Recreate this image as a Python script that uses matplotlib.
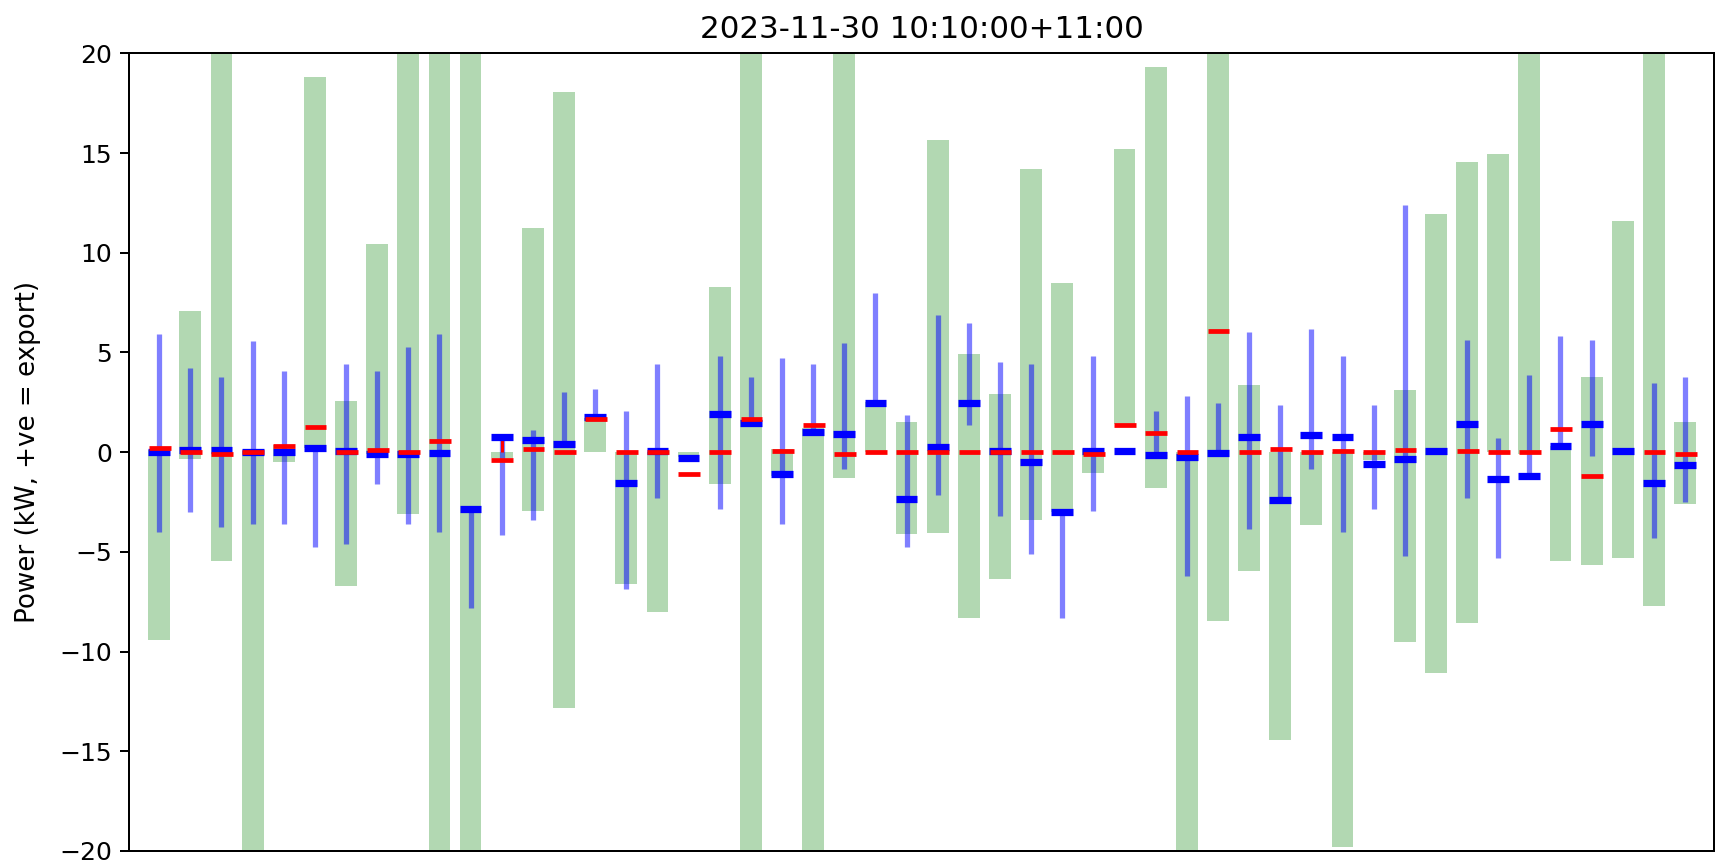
import numpy as np
import matplotlib
matplotlib.use("Agg")
import matplotlib.pyplot as plt

title = "2023-11-30 10:10:00+11:00"
ylabel = "Power (kW, +ve = export)"
N = None

# green bars: bottom / top (clipped bars extend past the axes)
green_lo = [-9.4, -0.34, -5.45, -25, -0.5, 0.2, -6.7, -0.1, -3.09, -25,
            -25, -0.3, -2.93, -12.83, 0.0, -6.6, -8.04, -0.25, -1.62, -25,
            -1.18, -25, -1.31, 0.0, -4.1, -4.06, -8.3, -6.34, -3.4, -3.0,
            -1.05, 1.4, -1.78, -25, -8.46, -5.94, -14.45, -3.66, -19.8, -0.4,
            -9.5, -11.05, -8.56, 0.0, -0.1, -5.45, -5.65, -5.29, -7.72, -2.62]
green_hi = [0.1, 7.07, 25, 0.05, 0.37, 18.8, 2.57, 10.45, 25, 25,
            25, 0.0, 11.26, 18.04, 1.7, 0.0, 0.0, 0.0, 8.3, 25,
            0.18, 1.23, 25, 2.49, 1.49, 15.63, 4.9, 2.93, 14.21, 8.46,
            0.18, 15.2, 19.3, 0.0, 25, 3.38, 0.0, 0.0, 0.0, 0.0,
            3.14, 11.94, 14.55, 14.97, 25, 0.3, 3.77, 11.57, 25, 1.49]

# blue range (min / max)
blue_lo = [-3.98, -3.01, -3.77, -3.59, -3.59, -4.74, -4.63, -1.62, -3.59, -3.98,
           -7.8, -4.14, -3.4, 0.45, 1.7, -6.88, -2.28, N, -2.83, 1.45,
           -3.59, 1.03, -0.84, 2.45, -4.74, -2.17, 1.36, -3.19, -5.1, -8.3,
           -2.93, N, -0.13, -6.2, -0.05, -3.85, -2.4, -0.84, -3.98, -2.83,
           -5.21, N, -2.28, -5.29, -1.18, 0.33, -0.18, N, -4.32, -2.49]
blue_hi = [5.94, 4.24, 3.77, 5.55, 4.06, 0.26, 4.42, 4.06, 5.29, 5.94,
           -2.83, 0.79, 1.13, 3.04, 3.19, 2.07, 4.42, N, 4.82, 3.77,
           4.71, 4.4, 5.45, 7.98, 1.88, 6.88, 6.49, 4.53, 4.42, -3.0,
           4.82, N, 2.07, 2.8, 2.46, 6.0, 2.36, 6.2, 4.82, 2.36,
           12.38, N, 5.63, 0.73, 3.85, 5.81, 5.63, N, 3.48, 3.77]

# blue mean marker
blue_mid = [0.03, 0.13, 0.12, 0.03, 0.0, 0.23, 0.05, -0.07, -0.1, -0.05,
            -2.83, 0.75, 0.6, 0.42, 1.78, -1.55, 0.05, -0.3, 1.91, 1.45,
            -1.08, 1.03, 0.93, 2.45, -2.36, 0.25, 2.45, 0.07, -0.5, -3.01,
            0.08, 0.05, -0.13, -0.25, -0.05, 0.75, -2.4, 0.85, 0.78, -0.6,
            -0.33, 0.05, 1.42, -1.37, -1.18, 0.33, 1.42, 0.05, -1.55, -0.62]

# red marker
red_mid = [0.2, 0.0, -0.1, 0.03, 0.3, 1.27, 0.0, 0.1, 0.0, 0.55,
           N, -0.37, 0.18, 0.0, 1.65, 0.0, 0.0, -1.12, 0.0, 1.65,
           0.08, 1.37, -0.1, 0.0, 0.0, 0.0, 0.0, 0.0, 0.0, 0.0,
           -0.1, 1.37, 0.98, 0.0, 6.06, 0.0, 0.18, 0.0, 0.08, 0.0,
           0.1, N, 0.08, 0.0, 0.0, 1.18, -1.22, N, 0.0, -0.08]
red_lo = [N] * 11 + [0.0] + [N] * 38
red_hi = [N] * 11 + [0.6] + [N] * 38


def arr(v):
    return np.array([np.nan if x is None else x for x in v], dtype=float)


x = np.arange(len(blue_mid))
W, H, DPI = 1715, 867, 180
fig = plt.figure(figsize=(W / DPI, H / DPI), dpi=DPI)
ax = fig.add_axes([129.3 / W, 16 / H, (1714 - 129.3) / W, (851 - 53.3) / H])

glo, ghi = arr(green_lo), arr(green_hi)
ax.bar(x, ghi - glo, bottom=glo, width=0.7, color="g", alpha=0.3, linewidth=0)

blo, bhi = arr(blue_lo), arr(blue_hi)
ok = ~np.isnan(blo)
ax.vlines(x[ok], blo[ok], bhi[ok], color="b", alpha=0.5, linewidth=2.1)

rlo, rhi = arr(red_lo), arr(red_hi)
okr = ~np.isnan(rlo)
ax.vlines(x[okr], rlo[okr], rhi[okr], color="r", linewidth=1.2)

bm = arr(blue_mid)
ax.hlines(bm, x - 0.35, x + 0.35, color="b", linewidth=2.9)
rm = arr(red_mid)
okm = ~np.isnan(rm)
ax.hlines(rm[okm], x[okm] - 0.33, x[okm] + 0.37, color="r", linewidth=1.9)

ax.set_xlim(-0.96, 49.93)
ax.set_ylim(-20, 20)
ax.set_yticks([-20, -15, -10, -5, 0, 5, 10, 15, 20])
ax.set_xticks([])
ax.set_ylabel(ylabel, fontsize=10.45, labelpad=7)
ax.set_title(title, fontsize=12.4)

fig.savefig("out.png", dpi=DPI)
